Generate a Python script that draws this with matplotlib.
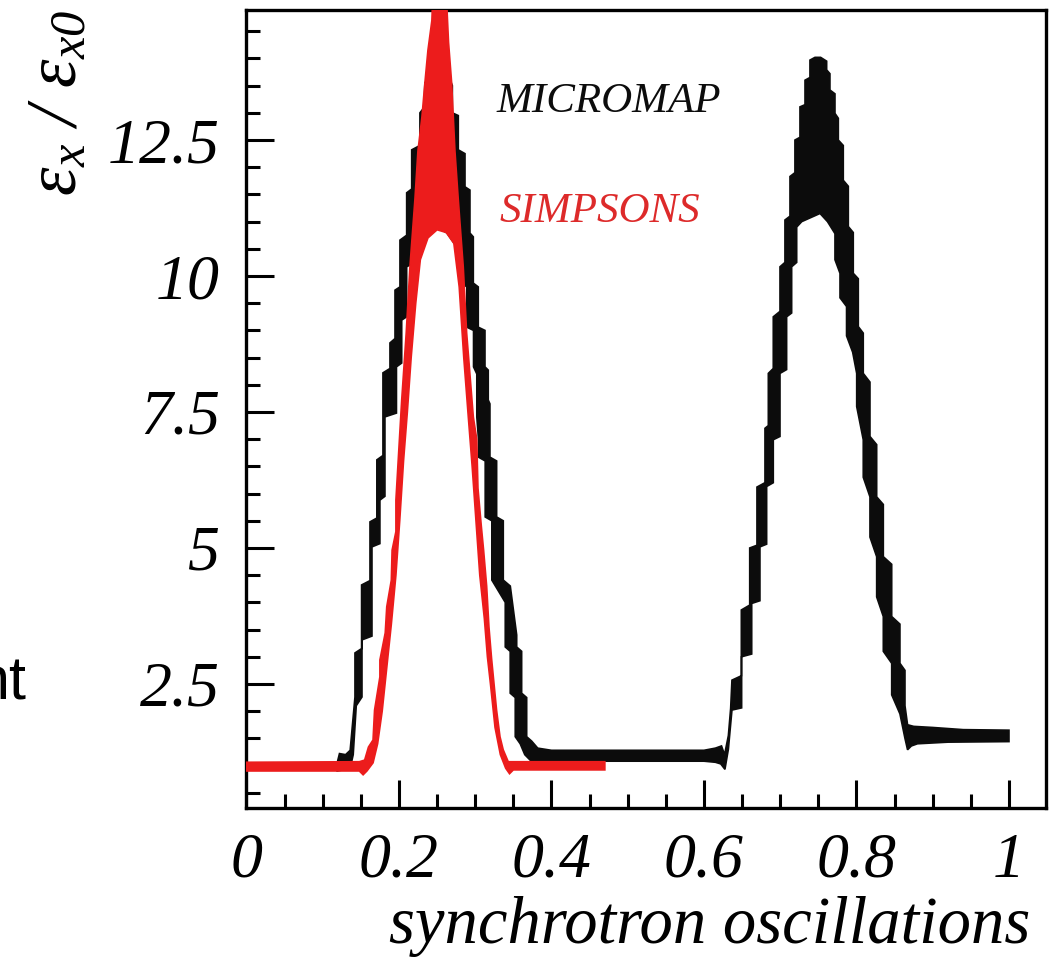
import numpy as np
import matplotlib
matplotlib.use("Agg")
import matplotlib.pyplot as plt

# emittance growth over synchrotron oscillations, two codes compared
# each curve is a dense oscillation, stored as the upper and lower envelope of the band

micromap_upper_x = [0.119, 0.122, 0.130, 0.136, 0.1423, 0.1423, 0.1510, 0.1510, 0.1620, 0.1620,
                    0.1710, 0.1710, 0.1790, 0.1790, 0.1882, 0.1882, 0.1948, 0.1948, 0.2013, 0.2013,
                    0.2101, 0.2101, 0.2167, 0.2167, 0.2275, 0.2275, 0.2330, 0.2340, 0.2420, 0.2460,
                    0.2540, 0.2620, 0.2700, 0.2700, 0.2778, 0.2778, 0.2866, 0.2866, 0.2931, 0.2931,
                    0.2975, 0.2975, 0.3040, 0.3040, 0.3128, 0.3128, 0.3171, 0.3171, 0.3193, 0.3193,
                    0.3281, 0.3281, 0.3368, 0.3368, 0.3460, 0.3544, 0.3544, 0.3609, 0.3609, 0.3675,
                    0.3675, 0.3740, 0.3820, 0.4000, 0.6000, 0.6150, 0.6230, 0.6270, 0.6320, 0.6350,
                    0.6367, 0.6490, 0.6490, 0.6600, 0.6600, 0.6695, 0.6695, 0.6800, 0.6800, 0.6844,
                    0.6844, 0.6909, 0.6909, 0.6997, 0.6997, 0.7062, 0.7062, 0.7128, 0.7128, 0.7193,
                    0.7193, 0.7259, 0.7259, 0.7325, 0.7325, 0.7390, 0.7390, 0.7456, 0.7530, 0.7609,
                    0.7609, 0.7652, 0.7652, 0.7718, 0.7718, 0.7762, 0.7762, 0.7827, 0.7827, 0.7893,
                    0.7893, 0.7958, 0.7958, 0.8024, 0.8024, 0.8089, 0.8089, 0.8177, 0.8177, 0.8265,
                    0.8265, 0.8352, 0.8352, 0.8462, 0.8462, 0.8570, 0.8570, 0.8636, 0.8636, 0.8670,
                    0.8750, 0.9000, 0.9400, 1.0000]
micromap_upper_y = [1.05, 1.22, 1.20, 1.28, 2.26, 3.07, 3.15, 4.32, 4.40, 5.48,
                    5.55, 6.62, 6.70, 8.22, 8.30, 8.77, 8.85, 9.74, 9.80, 10.66,
                    10.75, 11.53, 11.60, 12.32, 12.40, 13.00, 13.10, 13.55, 13.70, 13.85,
                    13.90, 13.80, 13.50, 13.00, 12.95, 12.32, 12.25, 11.64, 11.58, 10.79,
                    10.72, 9.87, 9.80, 9.06, 9.00, 8.33, 8.27, 7.72, 7.65, 6.67,
                    6.60, 5.57, 5.50, 4.41, 4.30, 3.40, 3.18, 3.10, 2.33, 2.25,
                    1.53, 1.45, 1.32, 1.28, 1.28, 1.32, 1.36, 1.20, 1.55, 2.05,
                    2.57, 2.65, 3.86, 3.95, 5.00, 5.05, 6.12, 6.20, 7.20, 7.25,
                    8.21, 8.30, 9.25, 9.35, 10.17, 10.25, 11.03, 11.10, 11.83, 11.90,
                    12.50, 12.55, 13.11, 13.15, 13.60, 13.65, 13.97, 14.02, 14.02, 13.95,
                    13.79, 13.72, 13.42, 13.35, 12.99, 12.90, 12.50, 12.40, 11.76, 11.65,
                    10.91, 10.80, 10.05, 9.95, 9.07, 8.95, 8.21, 8.05, 7.05, 6.90,
                    5.94, 5.80, 4.84, 4.70, 3.74, 3.60, 2.88, 2.75, 2.10, 1.75,
                    1.72, 1.70, 1.66, 1.65]

micromap_lower_x = [0.119, 0.130, 0.1357, 0.1400, 0.1440, 0.1515, 0.1515, 0.1646, 0.1646, 0.1750,
                    0.1750, 0.1816, 0.1816, 0.1967, 0.1967, 0.2036, 0.2036, 0.2101, 0.2101, 0.2167,
                    0.2167, 0.2360, 0.2500, 0.2630, 0.2825, 0.2825, 0.2890, 0.2890, 0.2978, 0.2978,
                    0.3021, 0.3021, 0.3043, 0.3043, 0.3131, 0.3131, 0.3218, 0.3218, 0.3394, 0.3394,
                    0.3459, 0.3459, 0.3525, 0.3525, 0.3590, 0.3650, 0.3720, 0.3800, 0.6000, 0.6150,
                    0.6220, 0.6275, 0.6320, 0.6367, 0.6494, 0.6494, 0.6626, 0.6626, 0.6734, 0.6734,
                    0.6822, 0.6822, 0.6909, 0.6909, 0.6997, 0.6997, 0.7084, 0.7084, 0.7150, 0.7150,
                    0.7216, 0.7216, 0.7282, 0.7522, 0.7620, 0.7718, 0.7718, 0.7784, 0.7784, 0.7870,
                    0.7870, 0.7950, 0.8003, 0.8003, 0.8089, 0.8089, 0.8177, 0.8177, 0.8265, 0.8265,
                    0.8352, 0.8352, 0.8462, 0.8462, 0.8570, 0.8636, 0.8670, 0.8720, 0.8800, 0.9200,
                    1.0000]
micromap_lower_y = [0.90, 0.93, 0.93, 1.20, 2.10, 2.26, 3.31, 3.38, 5.02, 5.08,
                    5.88, 5.95, 7.41, 7.48, 8.33, 8.40, 9.19, 9.25, 10.17, 10.22,
                    10.79, 10.80, 10.90, 10.79, 10.40, 9.87, 9.80, 9.06, 9.00, 8.33,
                    8.20, 7.41, 7.00, 6.67, 6.60, 5.57, 5.50, 4.41, 4.00, 3.18,
                    3.10, 2.33, 2.25, 1.53, 1.40, 1.20, 1.10, 1.08, 1.08, 1.06,
                    1.03, 0.93, 1.30, 2.02, 2.06, 3.00, 3.05, 3.98, 4.03, 5.02,
                    5.07, 6.13, 6.20, 6.99, 7.05, 8.21, 8.28, 9.25, 9.32, 10.17,
                    10.25, 10.90, 11.00, 11.15, 11.00, 10.78, 10.30, 10.05, 9.60, 9.44,
                    8.90, 8.60, 8.21, 7.60, 6.99, 6.30, 5.94, 5.20, 4.84, 4.10,
                    3.74, 3.10, 2.88, 2.30, 1.95, 1.50, 1.29, 1.36, 1.40, 1.43,
                    1.44]

simpsons_upper_x = [0.000, 0.148, 0.155, 0.160, 0.166, 0.168, 0.175, 0.175, 0.182, 0.184,
                    0.190, 0.191, 0.196, 0.196, 0.2036, 0.2095, 0.2144, 0.2209, 0.2249, 0.2301,
                    0.2340, 0.2380, 0.2432, 0.2445, 0.2620, 0.2650, 0.2691, 0.2734, 0.2778, 0.2843,
                    0.2888, 0.2975, 0.3020, 0.3036, 0.3080, 0.3110, 0.3150, 0.3180, 0.3215, 0.3280,
                    0.3325, 0.3367, 0.3433, 0.4700]
simpsons_upper_y = [1.06, 1.07, 1.10, 1.34, 1.47, 2.02, 2.63, 2.94, 3.44, 3.92,
                    4.41, 4.96, 5.30, 5.88, 7.72, 8.95, 10.17, 11.40, 12.30, 12.92,
                    13.55, 14.15, 14.70, 15.20, 15.20, 14.30, 13.55, 12.30, 11.40, 10.17,
                    8.95, 7.41, 7.00, 6.10, 5.40, 4.96, 4.30, 3.55, 2.96, 2.02,
                    1.53, 1.29, 1.07, 1.07]

simpsons_lower_x = [0.000, 0.148, 0.153, 0.158, 0.166, 0.172, 0.178, 0.184, 0.190, 0.196,
                    0.201, 0.206, 0.211, 0.216, 0.222, 0.228, 0.238, 0.250, 0.262, 0.272,
                    0.279, 0.285, 0.291, 0.296, 0.301, 0.306, 0.312, 0.316, 0.320, 0.326,
                    0.333, 0.340, 0.345, 0.350, 0.470]
simpsons_lower_y = [0.90, 0.90, 0.83, 0.90, 1.05, 1.40, 2.00, 2.80, 3.60, 4.50,
                    5.50, 6.60, 7.50, 8.50, 9.50, 10.30, 10.70, 10.85, 10.80, 10.60,
                    9.80, 8.50, 7.40, 6.50, 5.50, 4.50, 3.70, 3.00, 2.50, 1.70,
                    1.20, 0.95, 0.85, 0.92, 0.92]

x_ticks = [0, 0.2, 0.4, 0.6, 0.8, 1]
x_tick_labels = ["0", "0.2", "0.4", "0.6", "0.8", "1"]
y_ticks = [2.5, 5, 7.5, 10, 12.5]
y_tick_labels = ["2.5", "5", "7.5", "10", "12.5"]

plt.rcParams["font.family"] = "Liberation Serif"
plt.rcParams["font.style"] = "italic"
plt.rcParams["mathtext.fontset"] = "custom"
plt.rcParams["mathtext.rm"] = "Liberation Serif"
plt.rcParams["mathtext.it"] = "Liberation Serif:italic"

fig = plt.figure(figsize=(10.51, 9.66), dpi=100)
ax = fig.add_axes([0.2345, 0.1636, 0.7607, 0.826])

black = "#0c0c0c"
red = "#ec1c1c"

# band polygons: upper envelope left to right, lower envelope back
ax.fill(np.r_[micromap_upper_x, micromap_lower_x[::-1]],
        np.r_[micromap_upper_y, micromap_lower_y[::-1]],
        facecolor=black, edgecolor=black, lw=1.2, zorder=2)
ax.fill(np.r_[simpsons_upper_x, simpsons_lower_x[::-1]],
        np.r_[simpsons_upper_y, simpsons_lower_y[::-1]],
        facecolor=red, edgecolor=red, lw=1.2, zorder=3)

ax.set_xlim(0, 1.0485)
ax.set_ylim(0.22, 14.89)

ax.set_xticks(x_ticks)
ax.set_xticklabels(x_tick_labels)
ax.set_yticks(y_ticks)
ax.set_yticklabels(y_tick_labels)
ax.set_xticks(np.arange(0.05, 1.04, 0.05), minor=True)
ax.set_yticks(np.arange(0.5, 14.9, 0.5), minor=True)

ax.tick_params(which="both", direction="in", top=False, right=False,
               width=2.2, labelsize=46)
ax.tick_params(which="major", length=20)
ax.tick_params(which="minor", length=10)
ax.tick_params(axis="y", pad=19)
ax.tick_params(axis="x", pad=18)
for s in ax.spines.values():
    s.set_linewidth(2.4)

ax.text(0.3285, 13.01, "MICROMAP", fontsize=31, color=black)
ax.text(0.332, 10.99, "SIMPSONS", fontsize=31, color="#dd2a2a")

fig.text(0.056, 0.893,
         r"$\mathrm{\varepsilon}_{x}\ /\ \mathrm{\varepsilon}_{x0}$",
         rotation=90, fontsize=52, ha="center", va="center")
fig.text(0.980, 1 - 943 / 966, "synchrotron oscillations", fontsize=48,
         ha="right", va="baseline")
fig.text(27 / 1051, 1 - 699 / 966, "nt", fontsize=44, family="Liberation Sans",
         style="normal", ha="right", va="baseline")

plt.savefig("out.png", dpi=100)
